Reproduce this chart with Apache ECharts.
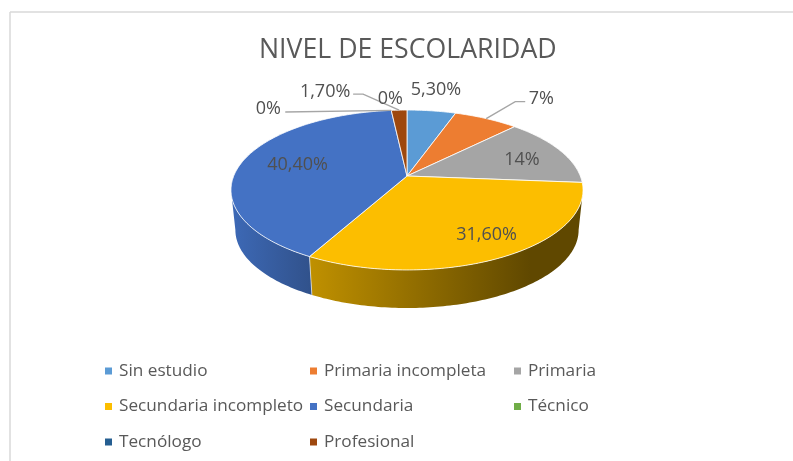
<!DOCTYPE html>
<html><head><meta charset="utf-8">
<style>html,body{margin:0;padding:0;background:#fff}#c{width:793px;height:461px}</style>
<script src="https://cdn.jsdelivr.net/npm/echarts@6/dist/echarts.min.js"></script>
</head><body><div id="c"></div>
<script>
const categories = ['Sin estudio','Primaria incompleta','Primaria','Secundaria incompleto','Secundaria','Técnico','Tecnólogo','Profesional'];
const values = [5.3,7,14,31.6,40.4,0,0,1.7];
const labels = ['5,30%','7%','14%','31,60%','40,40%','0%','0%','1,70%'];
const colors = ['#5B9BD5','#ED7D31','#A5A5A5','#FCBE00','#4472C4','#70AD47','#255E91','#9E480E'];
const legendColumns = [[0,3,6],[1,4,7],[2,5]];

// Presentation: label offset from the slice's rim midpoint, and leader-line bends
const labelOffsets = [[4.5,-20.5],[55,-19.5],[-38,9.5],[-18,-21.5],[55,3],[-123,-1.5],[-1,-11.5],[-74,-18.5]];
const leaders = {1:[[29,-17],[39,-17]],5:[[-106,1.6]],7:[[-36,-16],[-46,-16]]};
const wallGradients = {
  3:[311,530,'#BF9000','#604800'],
  4:[232,310,'#3D69B6','#31528C']
};
const geo = {cx:407,cy:176,R:173.3,f:77.5,k:0.175,shift:40.4,scale:0.975};

const total = values.reduce((a,b)=>a+b,0);
const starts = values.map((_,i)=>values.slice(0,i).reduce((a,b)=>a+b,0));
function project(theta,radius,bottom){
  const u=Math.sin(theta)*radius, v=-Math.cos(theta)*radius, d=1-geo.k*v;
  const s=bottom?geo.scale:1;
  return [geo.cx+s*geo.R*u/d, geo.cy+(bottom?geo.shift:0)+s*geo.f*v/d];
}
const angle = p => p/total*Math.PI*2;
function arcBetween(a,b,bottom){
  const n=Math.max(2,Math.ceil((b-a)/0.017)), pts=[];
  for(let j=0;j<=n;j++) pts.push(project(a+(b-a)*j/n,1,bottom));
  return pts;
}
function arc(i,bottom){ return arcBetween(angle(starts[i]),angle(starts[i]+values[i]),bottom); }
// Part of the rim that faces the viewer: between the silhouette's two side extremes
const visibleFrom = Math.acos(-geo.k), visibleTo = 2*Math.PI-visibleFrom;
function sideFill(i){
  const g=wallGradients[i];
  if(!g) return colors[i];
  return {type:'linear',global:true,x:g[0],y:0,x2:g[1],y2:0,colorStops:[{offset:0,color:g[2]},{offset:1,color:g[3]}]};
}
const wallSeries = {
  type:'custom',coordinateSystem:'none',name:'walls',z:1,silent:true,
  data:values.map((v,i)=>[i,v]),
  renderItem(params,api){
    const i=api.value(0);
    const s0=angle(starts[i]), s1=angle(starts[i]+values[i]);
    const a=Math.max(s0,visibleFrom), b=Math.min(s1,visibleTo);
    if(!(b>a)) return {type:'group',children:[]};
    const pts=arcBetween(a,b,false).concat(arcBetween(a,b,true).reverse());
    const kids=[{type:'polygon',shape:{points:pts},style:{fill:sideFill(i)}}];
    if(s0>=visibleFrom) kids.push({type:'polyline',shape:{points:[project(s0,1,false),project(s0,1,true)]},
      style:{fill:null,stroke:'rgba(255,255,255,0.6)',lineWidth:1},z2:2});
    return {type:'group',children:kids};
  }
};
const topSeries = categories.map((name,i)=>({
  type:'custom',coordinateSystem:'none',name,z:2,silent:true,
  itemStyle:{color:colors[i]},
  data:[[values[i]]],
  renderItem(params,api){
    if(!api.value(0)) return {type:'group',children:[]};
    const pts=[project(0,0,false)].concat(arc(i,false));
    return {type:'polygon',shape:{points:pts},style:{fill:colors[i],stroke:'rgba(255,255,255,0.8)',lineWidth:1}};
  }
}));
const labelSeries = {
  type:'custom',coordinateSystem:'none',name:'labels',z:3,silent:true,
  data:values.map((v,i)=>[i]),
  renderItem(params,api){
    const i=api.value(0);
    const m=project(angle(starts[i]+values[i]/2),1,false);
    const off=labelOffsets[i], kids=[];
    if(leaders[i]){
      const pts=[m].concat(leaders[i].map(o=>[m[0]+o[0],m[1]+o[1]]));
      kids.push({type:'polyline',shape:{points:pts},style:{fill:null,stroke:'#A6A6A6',lineWidth:1.4}});
    }
    kids.push({type:'text',style:{x:m[0]+off[0],y:m[1]+off[1],text:labels[i],align:'center',verticalAlign:'middle',
      fill:'#505050',font:'18px "Open Sans"'},z2:5});
    return {type:'group',children:kids};
  }
};
const colX = [105,310,514];
const legend = legendColumns.map((col,c)=>({
  left:colX[c],top:362,orient:'vertical',padding:0,itemGap:17.5,itemWidth:7,itemHeight:7,icon:'rect',selectedMode:false,
  data:col.map(i=>categories[i]),
  textStyle:{color:'#595959',fontFamily:'Open Sans',fontSize:17.2,lineHeight:18,padding:[0,0,0,2]}
}));
const chart = echarts.init(document.getElementById('c'),null,{renderer:'canvas'});
chart.setOption({
  animation:false,backgroundColor:'#fff',
  title:{text:'NIVEL DE ESCOLARIDAD',left:259,top:34,padding:0,itemGap:0,
    textStyle:{color:'#595959',fontFamily:'Open Sans',fontSize:26.7,fontWeight:'normal',lineHeight:32}},
  legend,
  graphic:[
    {type:'line',shape:{x1:10,y1:12,x2:793,y2:12},style:{stroke:'#D9D9D9',lineWidth:1.5},silent:true},
    {type:'line',shape:{x1:10,y1:12,x2:10,y2:461},style:{stroke:'#D9D9D9',lineWidth:1.5},silent:true}
  ],
  series:[wallSeries].concat(topSeries,[labelSeries])
});
</script></body></html>
